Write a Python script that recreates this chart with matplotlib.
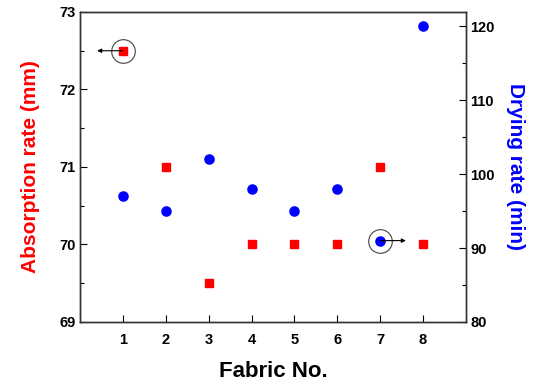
import numpy as np
import matplotlib.pyplot as plt
from matplotlib.ticker import MultipleLocator

plt.rcParams['font.family'] = ['Liberation Sans', 'DejaVu Sans']
plt.rcParams['font.weight'] = 'bold'

fabric = [1, 2, 3, 4, 5, 6, 7, 8]
absorption = [72.5, 71, 69.5, 70, 70, 70, 71, 70]
drying = [97, 95, 102, 98, 95, 98, 91, 120]

fig = plt.figure(figsize=(5.42, 3.83), dpi=100)
ax = fig.add_axes([0.1476, 0.1593, 0.712, 0.8094])
ax2 = ax.twinx()

ax.plot(fabric, absorption, 's', color='red', ms=5.8, mec='red', zorder=3)
ax2.plot(fabric, drying, 'o', color='blue', ms=6.6, mec='blue', zorder=3)

# highlight which series goes with which axis
ax.plot(fabric[0], absorption[0], 'o', mfc='none', mec='#444444', ms=17, mew=0.8)
ax.annotate('', xy=(0.4, absorption[0]), xytext=(fabric[0], absorption[0]),
            arrowprops=dict(arrowstyle='-|>', color='black', lw=0.8,
                            mutation_scale=6, shrinkA=0, shrinkB=0))
ax2.plot(fabric[6], drying[6], 'o', mfc='none', mec='#444444', ms=17, mew=0.8)
ax2.annotate('', xy=(7.6, drying[6]), xytext=(fabric[6], drying[6]),
             arrowprops=dict(arrowstyle='-|>', color='black', lw=0.8,
                             mutation_scale=6, shrinkA=0, shrinkB=0))

ax.set_xlim(0, 9)
ax.set_ylim(69, 73)
ax2.set_ylim(80, 121.9)
ax.set_xticks(fabric)
ax.yaxis.set_major_locator(MultipleLocator(1))
ax.yaxis.set_minor_locator(MultipleLocator(0.5))
ax2.yaxis.set_major_locator(MultipleLocator(10))
ax2.yaxis.set_minor_locator(MultipleLocator(5))

for a in (ax, ax2):
    for s in a.spines.values():
        s.set_color('#333333')
        s.set_linewidth(1.0)
ax.tick_params(axis='both', which='both', direction='in', labelsize=10.5, width=0.8)
ax.tick_params(axis='x', length=5, pad=8)
ax.tick_params(axis='y', which='major', length=5, pad=3)
ax.tick_params(axis='y', which='minor', length=3)
ax2.tick_params(axis='y', which='both', direction='in', labelsize=10.5, width=0.8, pad=3)
ax2.tick_params(axis='y', which='major', length=5)
ax2.tick_params(axis='y', which='minor', length=3)
for lab in ax.get_xticklabels() + ax.get_yticklabels() + ax2.get_yticklabels():
    lab.set_fontweight('bold')

ax.set_xlabel('Fabric No.', fontsize=16, fontweight='bold', labelpad=10)
ax.set_ylabel('Absorption rate (mm)', fontsize=15, fontweight='bold', color='red', labelpad=14)
ax2.set_ylabel('Drying rate (min)', fontsize=15, fontweight='bold', color='blue',
               rotation=270, labelpad=22)

fig.savefig('out.png', dpi=100)
